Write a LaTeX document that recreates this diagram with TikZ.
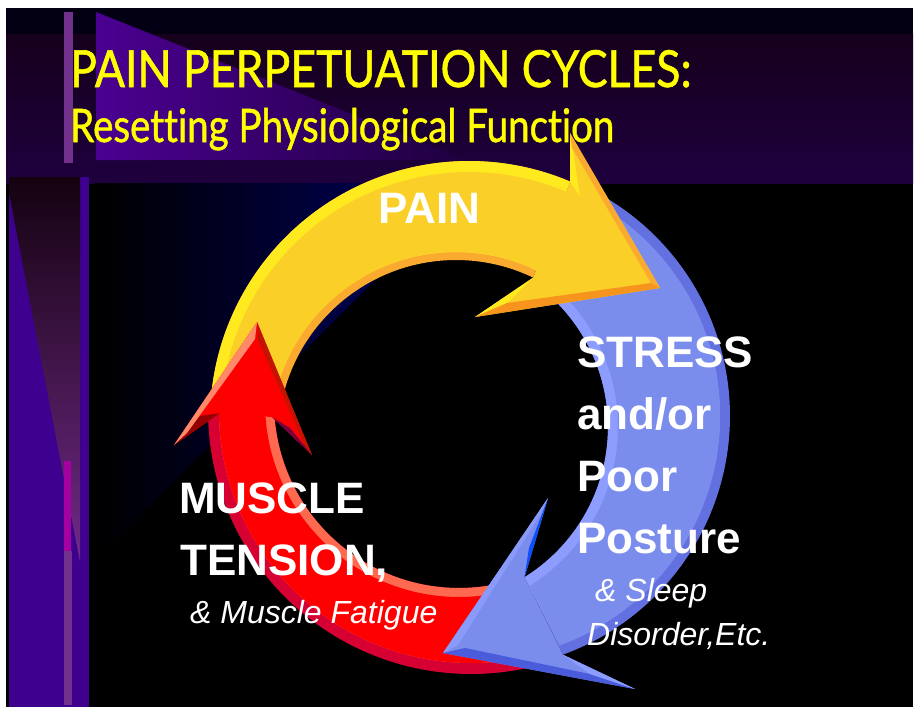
\documentclass[tikz,border=0pt]{standalone}
\usepackage{fontspec}
\setmainfont{Liberation Sans}
\newfontfamily\titlefont[Ligatures=NoCommon,FakeBold=1.2]{Lato}
\usepackage{graphicx}
\usetikzlibrary{calc}
% background colours
\definecolor{topstrip}{RGB}{4,0,20}
\definecolor{bandtop}{RGB}{22,0,28}
\definecolor{bandbot}{RGB}{30,0,62}
\definecolor{trileft}{RGB}{75,0,145}
\definecolor{triright}{RGB}{30,0,62}
\definecolor{barc}{RGB}{112,48,140}
\definecolor{colc}{RGB}{61,0,143}
\definecolor{beamtop}{RGB}{20,2,16}
\definecolor{beambot}{RGB}{112,42,135}
\definecolor{stripemag}{RGB}{165,0,160}
\definecolor{navyc}{RGB}{0,0,100}
\definecolor{titleyellow}{RGB}{255,255,0}
% yellow arrow
\definecolor{ymain}{RGB}{250,208,40}
\definecolor{ylight}{RGB}{255,234,32}
\definecolor{yorange}{RGB}{251,170,48}
\definecolor{ydark}{RGB}{247,148,29}
% red arrow
\definecolor{rmain}{RGB}{255,0,0}
\definecolor{rcrimson}{RGB}{214,0,50}
\definecolor{rsalmon}{RGB}{255,105,80}
\definecolor{rsalmonhead}{RGB}{255,138,106}
\definecolor{rdark}{RGB}{196,20,0}
\definecolor{rdeep}{RGB}{150,0,0}
\definecolor{rmaroon}{RGB}{120,0,60}
% blue arrow
\definecolor{bmain}{RGB}{123,141,236}
\definecolor{bouter}{RGB}{98,112,224}
\definecolor{binner}{RGB}{140,157,255}
\definecolor{blight}{RGB}{138,154,250}
\definecolor{bdark}{RGB}{74,91,219}
\definecolor{bdeep}{RGB}{10,80,255}
% band between an outer arc (centre \ocx,\ocy) and an inner arc (centre \icx,\icy)
\newcommand{\band}[7]{\fill[#1] plot[domain=#3:#4,samples=90,variable=\t] ({\ocx+#2*cos(\t)},{\ocy+#2*sin(\t)}) -- plot[domain=#6:#7,samples=90,variable=\t] ({\icx+#5*cos(\t)},{\icy+#5*sin(\t)}) -- cycle;}
\begin{document}
\begin{tikzpicture}[x=1pt,y=-1pt,
  lbl/.style={anchor=base west, inner sep=0pt, text=white, font=\bfseries\fontsize{44}{50}\selectfont},
  sub/.style={anchor=base west, inner sep=0pt, text=white, font=\itshape\fontsize{32}{38}\selectfont},
  ttl/.style={anchor=base west, inner sep=0pt, text=titleyellow}]
\useasboundingbox (0,0) rectangle (915,707);
\fill[white] (0,0) rectangle (915,707);
\fill[black] (6,8) rectangle (913,707);
% top decoration
\fill[topstrip] (6,8) rectangle (913,34);
\shade[top color=bandtop, bottom color=bandbot] (6,34) rectangle (913,183);
\shade[left color=trileft, right color=triright] (96,12) -- (96,160) -- (467,160) -- cycle;
\fill[barc] (64,12) rectangle (73,163);
% left column
\fill[colc] (9,177) rectangle (89,707);
\shade[top color=beamtop, bottom color=beambot] (9,177) -- (80,177) -- (80,562) -- (9,193) -- cycle;
\fill[stripemag] (64,461) rectangle (71,551);
\fill[barc] (64,551) rectangle (72,705);
% navy wedge
\shade[left color=black, right color=navyc] (95,183) -- (472,183) -- (95,560) -- cycle;

% ---- shafts ----
% yellow
\def\ocx{469}\def\ocy{420}\def\icx{456}\def\icy{438}
\band{yorange}{259}{182}{293}{178}{295.7}{190}
\band{ylight}{259}{182}{293}{186}{295.7}{190}
\band{ymain}{248}{182}{293}{186}{295.7}{190}
% blue
\def\ocx{476}\def\ocy{416}\def\icx{431}\def\icy{427}
\band{bouter}{254}{298}{430}{177}{418.1}{310}
\band{binner}{244}{298}{430}{177}{418.1}{310}
\band{bmain}{244}{298}{430}{187}{418.1}{310}
% red
\def\ocx{471}\def\ocy{411}\def\icx{459}\def\icy{403}
\band{rcrimson}{263}{75}{180}{185}{176}{75}
\band{rsalmon}{252}{75}{180}{185}{176}{75}
\band{rmain}{252}{75}{180}{194}{176}{75}

% ---- heads ----
% yellow head
\coordinate (yJ1) at (570.2,181.6);
\coordinate (yB1) at (570,133);
\coordinate (yT) at (660,288);
\coordinate (yB2) at (475,317);
\coordinate (yJ2) at (533.2,277.6);
\fill[ymain] (yJ1) -- (yB1) -- (yT) -- (yB2) -- (yJ2) -- cycle;
\fill[ylight] (yB1) -- (573,150) -- (580,197) -- (yJ1) -- cycle;
\fill[ylight] (yB2) -- (yJ2) -- (507,303) -- cycle;
\fill[yorange] (yB1) -- (yT) -- (651,283) -- (572,148) -- cycle;
\fill[ydark] (yT) -- (651,283) -- (507,303) -- (yB2) -- cycle;
% blue head
\coordinate (bJ1) at (562.9,654.7);
\coordinate (bB1) at (635,689);
\coordinate (bT) at (443,653);
\coordinate (bB2) at (548,498);
\coordinate (bJ2) at (524.5,577.3);
\fill[bmain] (bJ1) -- (bB1) -- (bT) -- (bB2) -- (bJ2) -- cycle;
\fill[blight] (bT) -- (bB2) -- (542,512) -- (458,645) -- cycle;
\fill[bdark] (bT) -- (465,648) -- (590,674) -- (bB1) -- cycle;
\fill[binner] (bJ1) -- (590,674) -- (bB1) -- cycle;
\fill[bdeep] (bB2) -- (bJ2) -- (529,548) -- cycle;
% red head
\coordinate (rJ1) at (220,413);
\coordinate (rB1) at (174,445);
\coordinate (rT) at (257,322);
\coordinate (rB2) at (312,455);
\coordinate (rJ2) at (272,417);
\fill[rmain] (rJ1) -- (rB1) -- (rT) -- (rB2) -- (rJ2) -- cycle;
\fill[rdeep] (rB1) -- (rJ1) -- (200,416) -- cycle;
\fill[rsalmonhead] (rT) -- (rB1) -- (187,433) -- (255,339) -- cycle;
\fill[rdark] (rT) -- (rB2) -- (306,448) -- (258,340) -- cycle;
\fill[rmaroon] (rB2) -- (rJ2) -- (290,428) -- cycle;

% ---- texts ----
\node[ttl] (title1) at (70,87) {\resizebox{621pt}{37pt}{\titlefont PAIN PERPETUATION CYCLES:}};
\node[ttl] (title2) at (70,142) {\resizebox{544pt}{34pt}{\titlefont Resetting Physiological Function}};
\node[lbl] (pain) at (378,223) {PAIN};
\node[lbl] (stress) at (577,367) {STRESS};
\node[lbl] (andor) at (577,429) {and/or};
\node[lbl] (poor) at (577,491) {Poor};
\node[lbl] (posture) at (577,553) {Posture};
\node[lbl] (muscle) at (179,513) {MUSCLE};
\node[lbl] (tension) at (180,575) {TENSION,};
\node[sub] (fatigue) at (190,623) {\& Muscle Fatigue};
\node[sub] (sleep) at (595,601) {\& Sleep};
\node[sub] (disorder) at (587,645) {Disorder,Etc.};
\end{tikzpicture}
\end{document}
